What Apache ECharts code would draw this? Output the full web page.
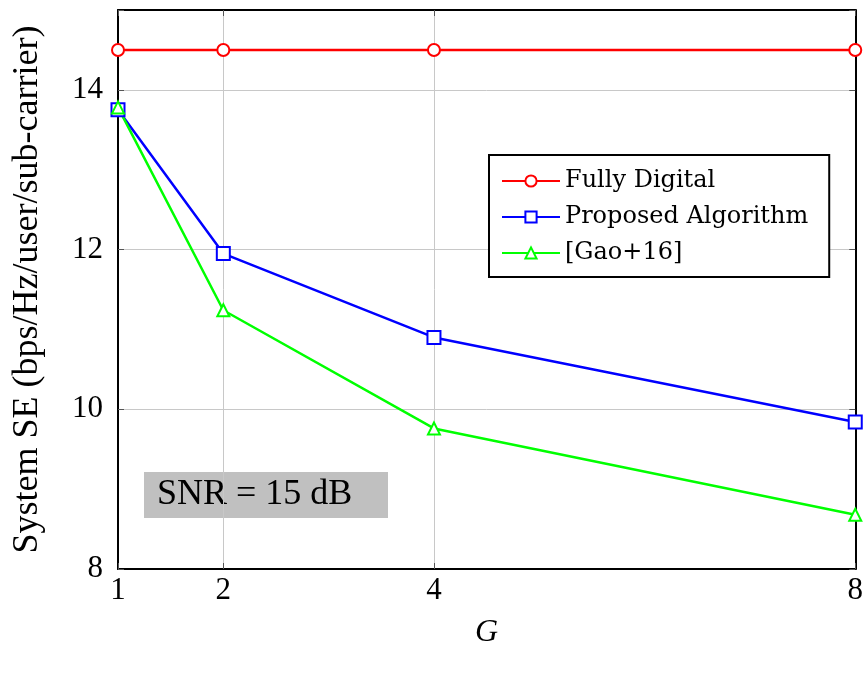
<!DOCTYPE html>
<html>
<head>
<meta charset="utf-8">
<script src="https://cdn.jsdelivr.net/npm/echarts@6/dist/echarts.min.js"></script>
<style>
  html, body { margin: 0; padding: 0; background: #fff; }
  #chart { width: 866px; height: 677px; }
</style>
</head>
<body>
<div id="chart"></div>
<script>
'use strict';

const groups = [1, 2, 4, 8];
const fullyDigital = [14.5, 14.5, 14.5, 14.5];
const proposed = [13.75, 11.95, 10.9, 9.84];
const gao16 = [13.78, 11.24, 9.76, 8.68];
const seriesNames = ['Fully Digital', 'Proposed Algorithm', '[Gao+16]'];
const yTicks = [8, 10, 12, 14];

const font = 'Liberation Serif';

function pairs(vals) {
  return groups.map((g, i) => [g, vals[i]]);
}

function makeSeries(name, vals, color, symbol, size) {
  return {
    name: name,
    type: 'line',
    data: pairs(vals),
    symbol: symbol,
    symbolSize: size,
    showAllSymbol: true,
    color: color,
    lineStyle: { color: color, width: 2.5 },
    itemStyle: { color: color, borderColor: color, borderWidth: 2.5 },
    emphasis: { disabled: true },
    animation: false,
    z: 3
  };
}

const chart = echarts.init(document.getElementById('chart'));
const option = {
  backgroundColor: '#fff',
  animation: false,
  grid: {
    left: 118,
    right: 10,
    top: 10,
    bottom: 108,
    show: false
  },
  legend: {
    orient: 'vertical',
    left: 489,
    top: 155,
    padding: [14, 21, 12, 12],
    itemGap: 12,
    itemWidth: 58,
    itemHeight: 14,
    backgroundColor: '#fff',
    borderColor: '#000',
    borderWidth: 2,
    data: seriesNames,
    textStyle: { fontFamily: 'DejaVu Serif', fontSize: 24, color: '#000' }
  },
  xAxis: [{
    type: 'value',
    min: 1,
    max: 8,
    name: 'G',
    nameLocation: 'middle',
    nameGap: 48,
    nameTextStyle: { fontFamily: font, fontStyle: 'italic', fontSize: 32, color: '#000' },
    axisLine: { show: true, lineStyle: { color: '#000', width: 2 } },
    axisTick: { show: true, inside: true, length: 6, customValues: groups, lineStyle: { color: '#555' } },
    axisLabel: { customValues: groups, fontFamily: font, fontSize: 31, color: '#000', margin: 6 },
    splitLine: { show: true, lineStyle: { color: '#c8c8c8', width: 1 } }
  }, {
    type: 'value',
    position: 'top',
    min: 1,
    max: 8,
    axisLine: { show: true, lineStyle: { color: '#000', width: 2 } },
    axisTick: { show: true, inside: true, length: 6, customValues: groups, lineStyle: { color: '#555' } },
    axisLabel: { show: false },
    splitLine: { show: false }
  }],
  yAxis: [{
    type: 'value',
    min: 8,
    max: 15,
    interval: 2,
    name: 'System SE (bps/Hz/user/sub-carrier)',
    nameLocation: 'middle',
    nameGap: 72,
    nameTextStyle: { fontFamily: font, fontSize: 36, color: '#000' },
    axisLine: { show: true, lineStyle: { color: '#000', width: 2 } },
    axisTick: { show: true, inside: true, length: 6, lineStyle: { color: '#555' } },
    axisLabel: {
      fontFamily: font, fontSize: 31, color: '#000', margin: 15,
      formatter: v => (yTicks.indexOf(v) >= 0 ? String(v) : '')
    },
    splitLine: { show: true, lineStyle: { color: '#c8c8c8', width: 1 } }
  }, {
    type: 'value',
    position: 'right',
    min: 8,
    max: 15,
    interval: 2,
    axisLine: { show: true, lineStyle: { color: '#000', width: 2 } },
    axisTick: { show: true, inside: true, length: 6, lineStyle: { color: '#555' } },
    axisLabel: { show: false },
    splitLine: { show: false }
  }],
  series: [
    makeSeries(seriesNames[0], fullyDigital, '#ff0000', 'emptyCircle', 12),
    makeSeries(seriesNames[1], proposed, '#0000ff', 'emptyRect', 13),
    makeSeries(seriesNames[2], gao16, '#00ff00', 'emptyTriangle', 12)
  ],
  graphic: [{
    type: 'group',
    left: 144,
    top: 472,
    children: [{
      type: 'rect',
      shape: { x: 0, y: 0, width: 244, height: 46 },
      style: { fill: '#c0c0c0' }
    }, {
      type: 'text',
      x: 13,
      y: 23,
      style: {
        text: 'SNR = 15 dB',
        font: '36px "Liberation Serif"',
        fill: '#000',
        verticalAlign: 'middle'
      }
    }]
  }]
};
chart.setOption(option);
</script>
</body>
</html>
